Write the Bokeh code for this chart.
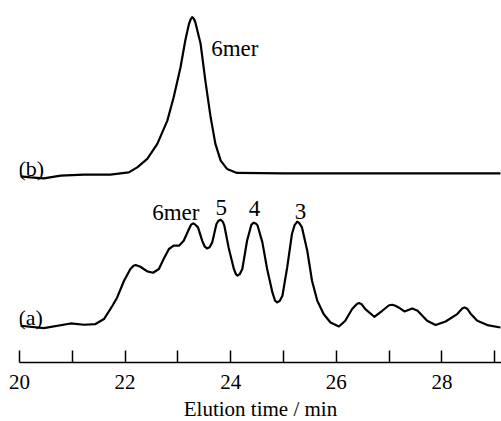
from bokeh.plotting import figure
from bokeh.models import Range1d, FixedTicker
from bokeh.core.properties import value
from bokeh.embed import file_html
from bokeh.resources import INLINE

# ---- data ----
# trace (a): elution time (min) and detector response (arb. units, baseline = 0)
time_a = [20.02, 20.46, 20.97, 21.22, 21.44, 21.60, 21.76, 21.85, 21.98, 22.10,
          22.16, 22.20, 22.29, 22.42, 22.53, 22.64, 22.73, 22.83, 22.92, 23.02,
          23.11, 23.21, 23.25, 23.29, 23.33, 23.38, 23.46, 23.51, 23.55, 23.60,
          23.65, 23.73, 23.77, 23.81, 23.85, 23.88, 23.96, 24.06, 24.10, 24.13,
          24.17, 24.22, 24.31, 24.39, 24.42, 24.44, 24.48, 24.51, 24.60, 24.69,
          24.79, 24.84, 24.88, 24.93, 24.98, 25.07, 25.16, 25.21, 25.26, 25.30,
          25.35, 25.45, 25.54, 25.64, 25.76, 25.89, 26.05, 26.17, 26.30, 26.39,
          26.43, 26.48, 26.55, 26.72, 26.87, 27.00, 27.06, 27.12, 27.18, 27.29,
          27.44, 27.54, 27.72, 27.88, 28.07, 28.29, 28.39, 28.43, 28.48, 28.54,
          28.67, 28.86, 29.11]
resp_a = [0.0, -2.3, 2.3, 1.0, 1.7, 6.7, 20.0, 28.3, 45.0, 56.7,
          60.0, 60.7, 59.0, 54.3, 53.0, 56.7, 66.7, 76.7, 80.0, 80.0,
          85.0, 96.7, 101.0, 102.3, 101.0, 98.3, 85.0, 79.0, 77.3, 78.5,
          83.3, 101.7, 105.0, 106.0, 104.0, 100.0, 78.3, 56.7, 51.5, 50.0,
          51.5, 56.7, 85.0, 100.7, 102.5, 103.0, 102.0, 100.0, 83.3, 56.7,
          33.3, 25.0, 23.3, 25.0, 30.0, 58.3, 91.7, 100.5, 104.0, 102.5,
          98.3, 75.0, 45.0, 25.0, 11.7, 3.3, -0.7, 5.0, 16.7, 21.8,
          22.7, 21.5, 16.7, 9.0, 15.0, 20.5, 21.0, 20.0, 18.3, 14.3,
          17.3, 15.0, 5.0, 0.7, 4.3, 11.7, 17.5, 18.3, 17.0, 12.3,
          5.0, 0.7, -1.7]

# trace (b)
time_b = [20.02, 20.21, 20.46, 20.78, 21.22, 21.72, 22.07, 22.23, 22.42, 22.61,
          22.80, 22.92, 23.05, 23.14, 23.21, 23.24, 23.27, 23.30, 23.33, 23.43,
          23.52, 23.62, 23.71, 23.81, 23.93, 24.12, 25.00, 27.00, 29.11]
resp_b = [-2.7, -3.7, -4.7, -2.0, -1.0, -1.0, 1.3, 6.3, 14.7, 29.7,
          53.0, 76.3, 106.3, 133.0, 149.7, 154.0, 156.3, 155.0, 151.3, 129.7,
          93.0, 56.3, 29.7, 13.0, 4.7, 0.7, 0.3, 0.3, 0.3]
offset_b = 152.0   # vertical offset of trace (b)

major_ticks = [20, 22, 24, 26, 28]
minor_ticks = [21, 23, 25, 27, 29]

peak_labels_a = ["6mer", "5", "4", "3"]
peak_times_a = [22.96, 23.82, 24.45, 25.32]
peak_text_y_a = [113.3, 118.3, 116.7, 114.3]

peak_label_b = ["6mer"]
peak_time_b = [23.63]
peak_text_y_b = [276.7]

trace_names = ["(a)", "(b)"]
trace_name_x = [19.98, 19.98]
trace_name_y = [8.3, 156.7]

x_title = "Elution time / min"

FONT = "Liberation Serif"

p = figure(frame_width=482, frame_height=354,
           min_border_left=19, min_border_right=0, min_border_top=8, min_border_bottom=59,
           x_range=Range1d(20.0, 20.0 + 482 / 52.8),
           y_range=Range1d(-36.7, 317.0),
           output_backend="svg", toolbar_location=None, y_axis_location=None)
p.outline_line_color = None
p.xgrid.visible = False
p.ygrid.visible = False
p.background_fill_color = "white"
p.border_fill_color = "white"

yb = [v + offset_b for v in resp_b]
p.line(time_a, resp_a, line_color="black", line_width=2.2, line_join="round")
p.line(time_b, yb, line_color="black", line_width=2.2, line_join="round")

p.text(x=peak_times_a, y=peak_text_y_a, text=peak_labels_a,
       text_font=value(FONT), text_font_size="23px", text_align="center",
       text_baseline="alphabetic", text_color="black")
p.text(x=peak_time_b, y=peak_text_y_b, text=peak_label_b,
       text_font=value(FONT), text_font_size="23px", text_align="left",
       text_baseline="alphabetic", text_color="black")
p.text(x=trace_name_x, y=trace_name_y, text=trace_names,
       text_font=value(FONT), text_font_size="22px", text_align="left",
       text_baseline="alphabetic", text_color="black")

ax = p.xaxis[0]
ax.ticker = FixedTicker(ticks=major_ticks, minor_ticks=minor_ticks)
ax.major_tick_in = 12
ax.major_tick_out = 0
ax.minor_tick_in = 12
ax.minor_tick_out = 0
ax.major_tick_line_width = 1.5
ax.minor_tick_line_width = 1.5
ax.major_tick_line_color = "black"
ax.minor_tick_line_color = "black"
ax.axis_line_width = 1.6
ax.axis_line_color = "black"
ax.major_label_text_font = FONT
ax.major_label_text_font_size = "21px"
ax.major_label_text_color = "black"
ax.major_label_text_line_height = 1.0
ax.major_label_standoff = 12
ax.axis_label = x_title
ax.axis_label_text_font = FONT
ax.axis_label_text_font_size = "21px"
ax.axis_label_text_font_style = "normal"
ax.axis_label_text_color = "black"
ax.axis_label_text_line_height = 1.0
ax.axis_label_standoff = 5

open("out.html", "w").write(file_html(p, INLINE))
